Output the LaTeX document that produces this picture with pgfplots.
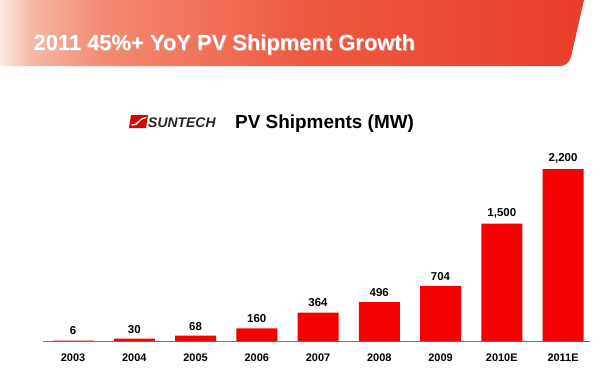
\documentclass[border=0pt]{standalone}
\usepackage{pgfplots}
\pgfplotsset{compat=1.18}
\usepackage{fontspec}
\setmainfont{Liberation Sans}
\definecolor{barred}{RGB}{245,0,0}
\definecolor{hA}{RGB}{252,235,228}
\definecolor{hB}{RGB}{246,185,165}
\definecolor{hC}{RGB}{243,140,115}
\definecolor{hD}{RGB}{238,90,65}
\definecolor{hE}{RGB}{234,62,42}
\pgfdeclarehorizontalshading{hdr}{100bp}{color(0bp)=(hA); color(25bp)=(hA); color(27.6bp)=(hB); color(33.5bp)=(hC); color(50.7bp)=(hD); color(75bp)=(hE); color(100bp)=(hE)}
\begin{document}
\begin{tikzpicture}[x=1bp,y=1bp]
\fill[white] (0,0) rectangle (600,374);
% header band
\shade[shading=hdr]
  (0,374) -- (584,374) -- (571,317) to[out=-105,in=0] (560,308) -- (0,308) -- cycle;
\node[anchor=base west, text=black!20, opacity=0.6, font=\bfseries\fontsize{22}{26}\selectfont, inner sep=0] at (34.3,322.7) {2011 45\%+ YoY PV Shipment Growth};
\node[anchor=base west, text=white, font=\bfseries\fontsize{22}{26}\selectfont, inner sep=0] at (33.5,323.5) {2011 45\%+ YoY PV Shipment Growth};
% logo
\fill[barred!90!black] (129,246) -- (146,246) -- (148,259) -- (131,259) -- cycle;
\draw[white, line width=1.3bp] (131.5,249) .. controls (140,249) and (136,254) .. (146,256.5);
\node[anchor=base west, font=\bfseries\itshape\fontsize{14}{16}\selectfont, text=black!85, inner sep=0] at (148,247) {SUNTECH};
\node[anchor=base west, font=\bfseries\fontsize{19}{22}\selectfont, inner sep=0] at (235,245.5) {PV Shipments (MW)};
\begin{axis}[
  at={(43bp,33bp)}, anchor=south west,
  scale only axis, width=547bp, height=172bp,
  xmin=-0.49, xmax=8.44, ymin=0, ymax=2200,
  axis y line=none, axis x line*=bottom,
  x axis line style={-, draw=black!55, line width=0.8bp},
  xtick={0,...,8}, major tick length=0,
  xticklabels={2003,2004,2005,2006,2007,2008,2009,2010E,2011E},
  xticklabel style={font=\bfseries\fontsize{11}{13}\selectfont, yshift=-9bp},
  ybar, bar width=41bp, bar shift=0,
  clip=false,
  nodes near coords,
  every node near coord/.append style={font=\bfseries\fontsize{11.5}{13}\selectfont, yshift=2bp},
  /pgf/number format/assume math mode=true,
  /pgf/number format/1000 sep={,},
]
\addplot[fill=barred, draw=none] coordinates {
(0,6) (1,30) (2,68) (3,160) (4,364) (5,496) (6,704) (7,1500) (8,2200)};
\end{axis}
\end{tikzpicture}
\end{document}
